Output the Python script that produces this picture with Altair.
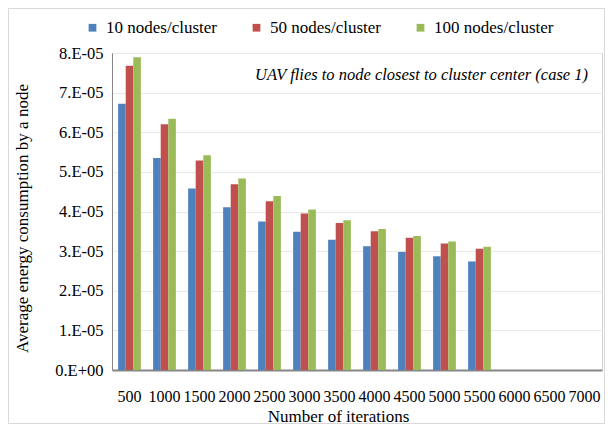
import altair as alt
import pandas as pd

categories = ["500", "1000", "1500", "2000", "2500", "3000", "3500",
              "4000", "4500", "5000", "5500", "6000", "6500", "7000"]
series = ["10 nodes/cluster", "50 nodes/cluster", "100 nodes/cluster"]
colors = ["#4F81BD", "#C0504D", "#9BBB59"]

iters_with_data = ["500", "1000", "1500", "2000", "2500", "3000", "3500",
                   "4000", "4500", "5000", "5500"]
n10 = [6.72e-5, 5.35e-5, 4.58e-5, 4.11e-5, 3.75e-5, 3.49e-5, 3.29e-5,
       3.12e-5, 2.98e-5, 2.87e-5, 2.74e-5]
n50 = [7.68e-5, 6.20e-5, 5.29e-5, 4.69e-5, 4.26e-5, 3.95e-5, 3.71e-5,
       3.50e-5, 3.34e-5, 3.19e-5, 3.06e-5]
n100 = [7.89e-5, 6.34e-5, 5.42e-5, 4.83e-5, 4.39e-5, 4.05e-5, 3.78e-5,
        3.56e-5, 3.38e-5, 3.24e-5, 3.11e-5]
y_ticks = [0, 1e-5, 2e-5, 3e-5, 4e-5, 5e-5, 6e-5, 7e-5, 8e-5]

annotation = "UAV flies to node closest to cluster center (case 1)"
FONT = "Liberation Serif"

rows = []
for name, vals in zip(series, [n10, n50, n100]):
    for it, v in zip(iters_with_data, vals):
        rows.append({"iter": it, "series": name, "value": v})
df = pd.DataFrame(rows)

bars = alt.Chart(df).mark_bar().encode(
    x=alt.X("iter:N", sort=categories,
            scale=alt.Scale(domain=categories, paddingInner=0.35, paddingOuter=0.175),
            axis=alt.Axis(title="Number of iterations", labelAngle=0, ticks=False,
                          domainColor="#868686", domainWidth=2,
                          labelPadding=18, labelFontSize=16, labelFont=FONT,
                          labelColor="black", labelOverlap=False,
                          titleFont=FONT, titleFontSize=17, titleFontWeight="normal",
                          titleColor="black", titleX=226, titleY=51,
                          titleBaseline="alphabetic", titleAnchor="start", titleAlign="center")),
    xOffset=alt.XOffset("series:N", sort=series),
    y=alt.Y("value:Q",
            scale=alt.Scale(domain=[0, 8e-5], nice=False),
            axis=alt.Axis(title="Average energy consumption by a node", values=y_ticks,
                          labelExpr="datum.value == 0 ? '0.E+00' : format(datum.value*1e5, '.0f') + '.E-05'",
                          ticks=False, domainColor="#868686", domainWidth=1,
                          gridColor="#e8e8e8", gridWidth=1,
                          labelPadding=9, labelFontSize=16.5, labelFont=FONT,
                          labelColor="black",
                          titleFont=FONT, titleFontSize=17, titleFontWeight="normal",
                          titleColor="black", titleAngle=-90, titleX=-90, titleY=165,
                          titleAlign="center", titleBaseline="middle")),
    color=alt.Color("series:N", sort=series,
                    scale=alt.Scale(domain=series, range=colors),
                    legend=alt.Legend(title=None, orient="none", direction="horizontal",
                                      legendX=-28, legendY=-34, symbolType="square",
                                      symbolSize=60, symbolStrokeWidth=0,
                                      labelFont=FONT, labelFontSize=17, labelColor="black",
                                      labelOffset=5, columnPadding=22, gridAlign="all",
                                      labelLimit=300)),
)

note = alt.Chart(alt.Data(values=[{}])).mark_text(
    text=annotation, font=FONT, fontSize=16.5, fontStyle="italic",
    align="right", baseline="middle", color="black"
).encode(x=alt.value(476), y=alt.value(22))

border = alt.Chart(alt.Data(values=[{}])).mark_rect(
    fillOpacity=0, stroke="#d9d9d9", strokeWidth=1
).encode(x=alt.value(-103.5), x2=alt.value(492.5), y=alt.value(-44.5), y2=alt.value(370.5))

chart = alt.layer(border, bars, note).properties(
    width=490, height=317,
    autosize=alt.AutoSizeParams(type="none"),
    padding={"left": 104, "top": 45, "right": 3, "bottom": 54},
).configure(background="white", font=FONT).configure_view(
    stroke="#d0d0d0", strokeWidth=1
)

chart.save("out.html", embed_options={"renderer": "svg", "actions": False})
